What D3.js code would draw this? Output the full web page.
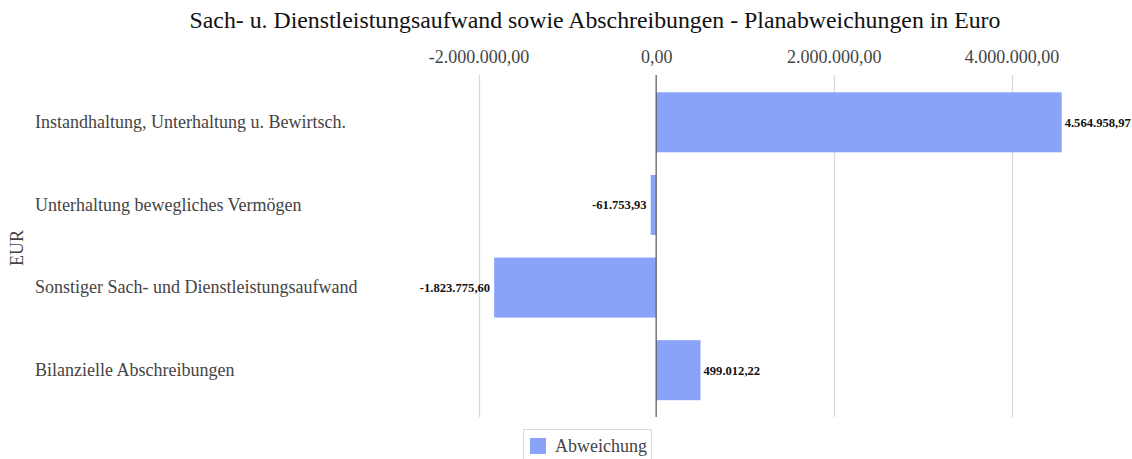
<!DOCTYPE html>
<html><head><meta charset="utf-8">
<script src="https://cdn.jsdelivr.net/npm/d3@7"></script>
<style>body{margin:0;background:#fff}svg{display:block}svg text{font-family:"Liberation Serif","Times New Roman",serif !important}</style>
</head><body>
<svg id="c" width="1132" height="459"></svg>
<script>
const categories = ["Instandhaltung, Unterhaltung u. Bewirtsch.","Unterhaltung bewegliches Vermögen","Sonstiger Sach- und Dienstleistungsaufwand","Bilanzielle Abschreibungen"];
const values = [4564958.97, -61753.93, -1823775.60, 499012.22];
const valueLabels = ["4.564.958,97","-61.753,93","-1.823.775,60","499.012,22"];
const ticks = [-2000000, 0, 2000000, 4000000];
const tickLabels = ["-2.000.000,00","0,00","2.000.000,00","4.000.000,00"];
const seriesName = "Abweichung";
const title = "Sach- u. Dienstleistungsaufwand sowie Abschreibungen - Planabweichungen in Euro";

const svg = d3.select("#c");
const color = "#88a3f8";
const x = d3.scaleLinear().domain([-2000000, 4000000]).range([478.5, 1011.5]);
const y = d3.scaleBand().domain(categories).range([81, 411.5]).paddingInner(0.274).paddingOuter(0.137);

svg.append("text").attr("x", 595).attr("y", 28).attr("text-anchor","middle")
  .style("font-size","23.8px").attr("fill","#111").text(title);

// gridlines
const gTop = 75, gBot = 417;
svg.append("g").selectAll("line").data(ticks.filter(t=>t!==0)).join("line")
  .attr("x1", d=>Math.round(x(d))+0.5).attr("x2", d=>Math.round(x(d))+0.5)
  .attr("y1", gTop).attr("y2", gBot).attr("stroke","#d9d9d9").attr("stroke-width",1.3);

// top axis labels
const ax = d3.axisTop(x).tickValues(ticks).tickFormat((d,i)=>tickLabels[i]).tickSize(0).tickPadding(0);
const axg = svg.append("g").attr("transform","translate(0,63)").call(ax);
axg.attr("font-family",null).attr("font-size",null);
axg.select(".domain").remove();
axg.selectAll("text").style("font-size","18px").attr("fill","#444");

// bars
svg.append("g").selectAll("rect").data(values).join("rect")
  .attr("x", d=>x(Math.min(0,d))).attr("width", d=>Math.abs(x(d)-x(0)))
  .attr("y", (d,i)=>y(categories[i])).attr("height", y.bandwidth())
  .attr("fill", color);

// zero line
svg.append("line").attr("x1", x(0)).attr("x2", x(0)).attr("y1", gTop).attr("y2", gBot)
  .attr("stroke","#555").attr("stroke-width",1.2);

// value labels
svg.append("g").selectAll("text").data(values).join("text")
  .attr("x", d=> d>=0 ? x(d)+3 : x(d)-4)
  .attr("y", (d,i)=>y(categories[i])+y.bandwidth()/2+4.5)
  .attr("text-anchor", d=> d>=0 ? "start":"end")
  .style("font-size","12.6px").style("font-weight","bold").attr("fill","#111")
  .text((d,i)=>valueLabels[i]);

// category labels
const ay = d3.axisLeft(y).tickSize(0);
const ayg = svg.append("g").attr("transform","translate(35,0)").call(ay);
ayg.attr("font-family",null).attr("font-size",null);
ayg.select(".domain").remove();
ayg.selectAll("text").attr("text-anchor","start").attr("x",0).attr("dy","0.32em")
  .style("font-size","18px").attr("fill","#444");

// y title
svg.append("text").attr("transform","translate(23,248) rotate(-90)").attr("text-anchor","middle")
  .style("font-size","18px").attr("fill","#444").text("EUR");

// legend
const lg = svg.append("g");
lg.append("rect").attr("x",523.5).attr("y",429.5).attr("width",128).attr("height",40)
  .attr("fill","#fff").attr("stroke","#d9d9d9");
lg.append("rect").attr("x",530).attr("y",438).attr("width",16).attr("height",16).attr("fill",color);
lg.append("text").attr("x",555).attr("y",452).style("font-size","18px").attr("fill","#444").text(seriesName);
</script>
</body></html>
